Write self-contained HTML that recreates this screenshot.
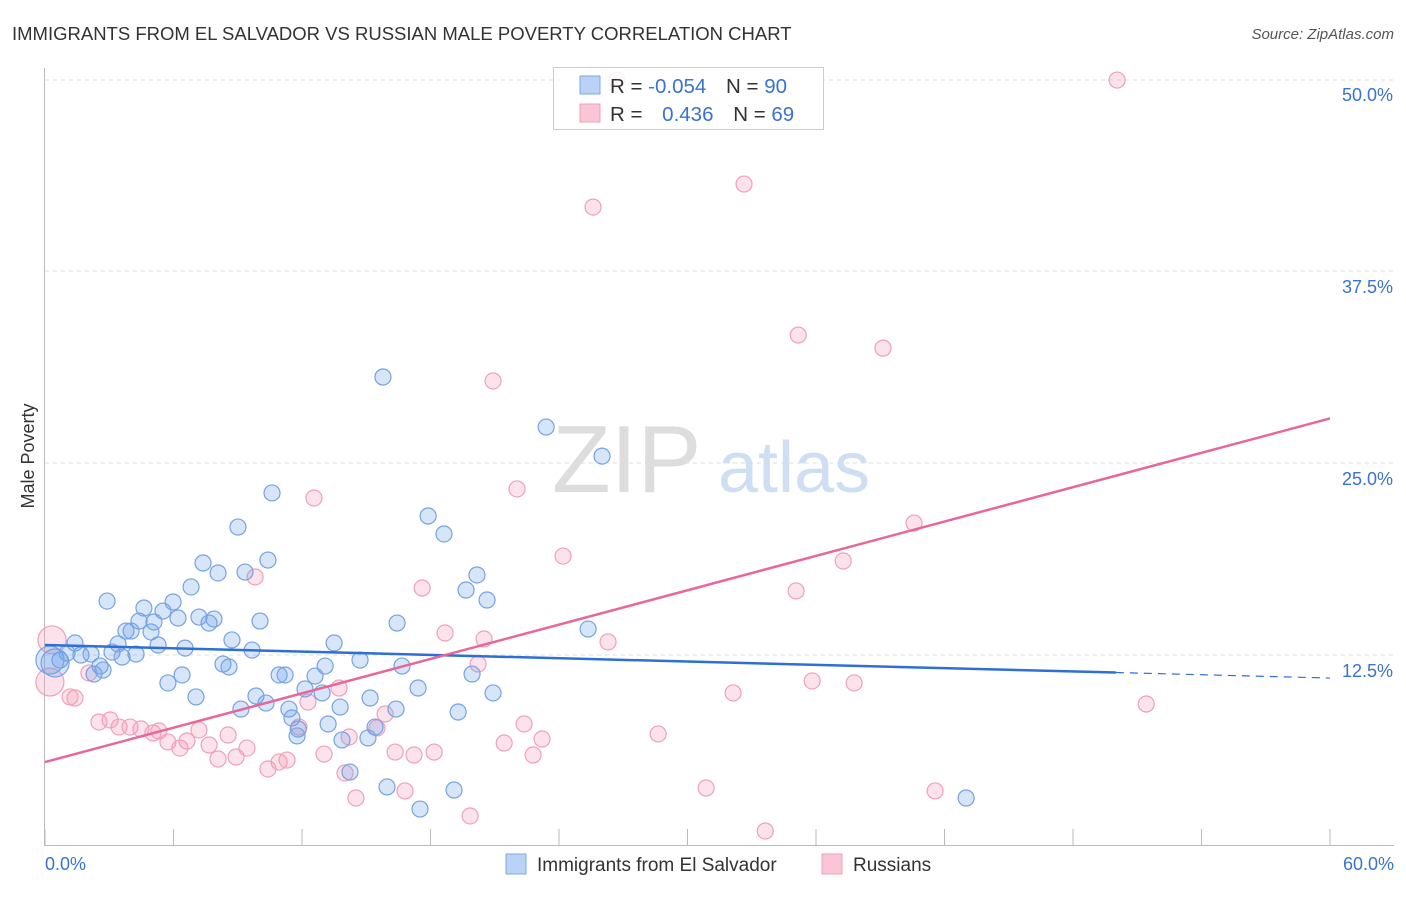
<!DOCTYPE html>
<html><head><meta charset="utf-8"><style>
body{margin:0;background:#fff;font-family:"Liberation Sans",sans-serif}
svg text{font-family:"Liberation Sans",sans-serif}
</style></head><body>
<svg id="chart" width="1406" height="892">
<text x="12" y="40" font-size="18.5" fill="#333">IMMIGRANTS FROM EL SALVADOR VS RUSSIAN MALE POVERTY CORRELATION CHART</text>
<text x="1394" y="39" font-size="15" fill="#555" text-anchor="end" font-style="italic">Source: ZipAtlas.com</text>
<text x="34" y="456" font-size="18" fill="#333" text-anchor="middle" transform="rotate(-90 34 456)">Male Poverty</text>
<g id="grid"></g>
<g><text x="552" y="492" font-size="96" fill="#ddd" font-family="Liberation Serif">ZIP</text><text x="718" y="492" font-size="72" fill="#cfdff3">atlas</text></g>
<g id="axes"></g>
<g id="pts"></g>
<g id="trend"></g>
<g>
<rect x="553.5" y="67.5" width="270" height="62" fill="#fff" fill-opacity="0.85" stroke="#ccc"/>
<rect x="580" y="76" width="20" height="18" fill="#b9d2f5" stroke="#7fa8e0"/>
<rect x="580" y="104" width="20" height="18" fill="#fac5d5" stroke="#f0a0b8"/>
<text x="610" y="93" font-size="20.5" fill="#333">R = <tspan fill="#3a72d0">-0.054</tspan>  <tspan dx="14">N = </tspan><tspan fill="#3a72d0">90</tspan></text>
<text x="610" y="121" font-size="20.5" fill="#333">R = <tspan fill="#3a72d0" dx="14">0.436</tspan>  <tspan dx="14">N = </tspan><tspan fill="#3a72d0">69</tspan></text>
</g>
<g>
<rect x="506" y="854" width="20" height="20" fill="#b9d2f5" stroke="#7fa8e0"/>
<text x="537" y="871" font-size="19" fill="#333">Immigrants from El Salvador</text>
<rect x="822" y="854" width="20" height="20" fill="#fac5d5" stroke="#f0a0b8"/>
<text x="853" y="871" font-size="19" fill="#333">Russians</text>
</g>
</svg>
<script>
const yTicks=[12.5,25,37.5,50];
const yTickLabels=["12.5%","25.0%","37.5%","50.0%"];
const xTickVals=[0,6,12,18,24,30,36,42,48,54,60];
const blueX=[15.78,23.40,26.01,10.60,9.01,17.89,18.63,10.41,7.38,8.08,9.34,20.17,19.66,20.64,6.82,2.90,5.98,4.62,5.51,7.19,6.21,7.89,7.66,4.39,5.09,10.04,16.44,3.78,4.02,4.95,8.73,1.40,3.41,5.28,6.54,25.36,13.50,3.13,9.67,1.03,1.68,2.15,4.25,3.60,0.70,0.23,0.47,2.57,2.71,2.29,8.31,8.59,13.08,14.71,16.67,6.40,5.74,10.93,11.21,12.61,19.94,12.14,12.94,17.42,20.92,7.05,9.85,10.32,15.18,9.15,11.39,13.78,16.39,19.29,11.53,13.22,11.82,15.41,11.77,13.87,15.08,14.24,15.97,19.10,17.51,43.01];
const blueY=[30.6,27.34,25.45,23.05,20.83,21.55,20.38,18.68,18.49,17.84,17.90,17.71,16.73,16.08,16.93,16.01,15.95,15.56,15.36,14.97,14.91,14.84,14.58,14.71,14.65,14.71,14.58,14.06,14.06,14.00,13.48,13.28,13.22,13.15,12.95,14.19,13.28,12.69,12.82,12.63,12.50,12.56,12.56,12.37,12.17,12.17,11.98,11.78,11.52,11.26,11.91,11.72,11.78,12.17,11.78,11.20,10.68,11.20,11.20,11.13,11.26,10.29,10.03,10.35,10.03,9.77,9.83,9.37,9.70,8.98,8.98,9.11,8.98,8.79,8.40,8.01,7.68,7.81,7.23,6.97,7.10,4.88,3.91,3.71,2.47,3.19];
const pinkX=[26.71,50.06,32.64,25.59,35.17,39.13,20.92,22.04,12.56,40.58,24.19,37.27,9.81,17.61,35.07,18.68,20.50,26.29,0.33,20.22,2.05,35.82,37.78,0.23,1.17,1.40,32.13,51.42,13.73,12.28,15.88,2.52,3.04,3.46,3.97,4.48,5.04,5.32,6.63,5.74,6.30,7.19,7.66,8.08,8.55,8.92,9.43,10.41,10.93,11.30,11.86,13.03,14.01,14.52,15.50,16.35,16.81,17.23,18.17,19.85,21.44,22.37,22.79,23.21,28.63,30.87,33.63,41.56,14.20];
const pinkY=[49.93,49.93,43.16,41.66,33.33,32.48,30.34,23.31,22.72,21.09,18.94,18.62,17.58,16.86,16.67,13.93,13.54,13.35,13.48,11.91,11.33,10.81,10.68,10.74,9.77,9.70,10.03,9.31,10.35,9.44,8.66,8.14,8.27,7.81,7.81,7.68,7.42,7.55,6.90,6.84,6.44,7.62,6.64,5.73,7.29,5.86,6.44,5.08,5.53,5.66,7.81,6.05,4.82,3.19,7.75,6.18,3.65,5.99,6.18,2.02,6.77,8.01,5.99,7.03,7.36,3.84,1.04,3.65,7.16];
const blueTrend=[13.15,11.0];
const pinkTrend=[5.53,27.9];
const NS="http://www.w3.org/2000/svg";
const sx=v=>45+v/60*1285;
const sy=v=>847-v/12.5*192;
function mk(tag,attrs,parent){const e=document.createElementNS(NS,tag);for(const k in attrs)e.setAttribute(k,attrs[k]);parent.appendChild(e);return e;}
const grid=document.getElementById('grid'),axes=document.getElementById('axes'),pts=document.getElementById('pts'),trend=document.getElementById('trend');
yTicks.forEach((t,i)=>{
 const l=mk('line',{x1:45,x2:1394,y1:sy(t)-(t==50?-1:0),y2:sy(t)-(t==50?-1:0),stroke:'#ddd','stroke-dasharray':'4,4'},grid);
 
 
 const tx=mk('text',{x:1393,y:sy(t)+22,'font-size':18,fill:'#3a72d0','text-anchor':'end'},axes);
 tx.textContent=yTickLabels[i];
 
 
});
const ax=mk('line',{x1:44.5,x2:44.5,y1:68,y2:846,stroke:'#bbb'},axes);


const bx=mk('line',{x1:44,x2:1394,y1:845.5,y2:845.5,stroke:'#bbb'},axes);


xTickVals.forEach(v=>{
 const t=mk('line',{x1:sx(v),x2:sx(v),y1:829,y2:846,stroke:'#bbb'},axes);
 
 
});
[[0,"0.0%","start",45],[60,"60.0%","end",1394]].forEach(a=>{
 const t=mk('text',{x:a[3],y:870,'font-size':18,fill:'#3a72d0','text-anchor':a[2]},axes);
 t.textContent=a[1];
 
 
});
function dots(X,Y,fill,stroke,name){
 X.forEach((x,i)=>{
  const big=x<0.5;
  const c=mk('circle',{cx:sx(x),cy:sy(Y[i]),r:big?14:8,fill:fill,stroke:stroke,'stroke-width':1.2},pts);
  
  
 });
}
dots(pinkX,pinkY,'rgba(246,160,186,0.3)','#f0a0b8','russians-point');
dots(blueX,blueY,'rgba(110,160,232,0.28)','#76a2e2','el-salvador-point');
const bEnd=50;const bm=blueTrend[0]+(blueTrend[1]-blueTrend[0])*bEnd/60;
const l1=mk('line',{x1:sx(0),y1:sy(blueTrend[0]),x2:sx(bEnd),y2:sy(bm),stroke:'#2d6fd6','stroke-width':2.5},trend);


const l2=mk('line',{x1:sx(bEnd),y1:sy(bm),x2:sx(60),y2:sy(blueTrend[1]),stroke:'#2d6fd6','stroke-width':1.2,'stroke-dasharray':'8,6'},trend);


const l3=mk('line',{x1:sx(0),y1:sy(pinkTrend[0]),x2:sx(60),y2:sy(pinkTrend[1]),stroke:'#e8679a','stroke-width':2.5},trend);


</script>
</body></html>
